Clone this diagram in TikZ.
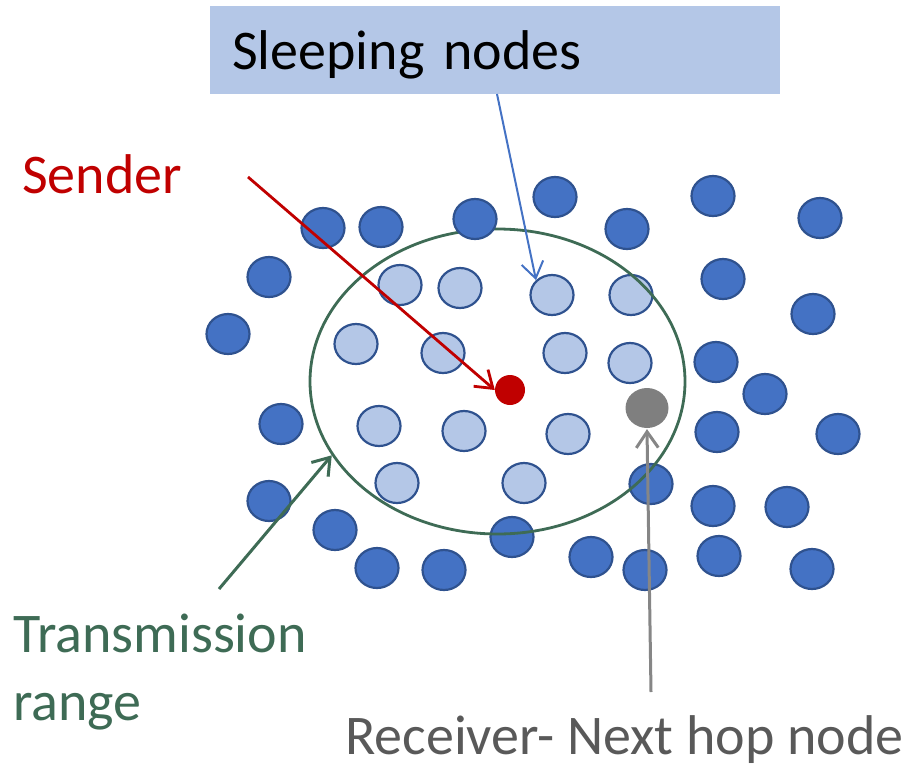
\documentclass[tikz,border=0pt]{standalone}
\usepackage{fontspec}
\setmainfont{Carlito}
\usepackage{tikz}
\usetikzlibrary{arrows.meta,shapes.geometric}

\definecolor{awakefill}{HTML}{4472C4}
\definecolor{nodeline}{HTML}{2F528F}
\definecolor{sleepfill}{HTML}{B4C7E7}
\definecolor{sendred}{HTML}{C00000}
\definecolor{rangegreen}{HTML}{3E6B55}
\definecolor{recvfill}{HTML}{7F7F7F}
\definecolor{recvtext}{HTML}{595959}
\definecolor{arrowgray}{HTML}{868686}

\begin{document}
\begin{tikzpicture}[x=1pt, y=-1pt,
  awake/.style={ellipse, draw=nodeline, line width=2.2pt, fill=awakefill,
    minimum width=43pt, minimum height=40pt, inner sep=0pt},
  asleep/.style={awake, fill=sleepfill},
  lbl/.style={font=\fontsize{56}{68}\selectfont, inner sep=0pt},
  barb/.style={-{Straight Barb[length=16pt,width=22pt]}}]
  \useasboundingbox (0,0) rectangle (918,766);

  % awake nodes (a3 comes after the range, it lies over it)
  \foreach \x/\y [count=\i] in {323/228, 381/227, 555/197, 627/229, 713/196,
      820/218, 269/277, 723/279, 813/314, 228/334, 716/362, 765/394, 281/424,
      717/432, 838/434, 651/484, 269/501, 713/506, 787/507, 335/530, 512/537,
      591/557, 377/568, 444/570, 645/570, 719/556, 812/569}
    \node (a\i) [awake] at (\x,\y) {};
  % sleeping nodes
  \foreach \x/\y [count=\i] in {400/285, 460/288, 552/295, 631/295, 356/344,
      443/353, 565/353, 630/363, 379/426, 464/431, 568/434, 397/483, 524/483}
    \node (l\i) [asleep] at (\x,\y) {};

  \node (range) [ellipse, draw=rangegreen, line width=2.8pt, minimum width=375pt,
    minimum height=305pt, inner sep=0pt] at (497.5,381.5) {};
  \node (atop) [awake] at (475,219) {};

  \node (sender) [circle, fill=sendred, minimum size=30pt, inner sep=0pt] at (510,390) {};
  \node (recv) [awake, draw=none, fill=recvfill] at (647,408) {};

  \node (sleepbox) [lbl, anchor=north west, fill=sleepfill, text width=526pt,
    inner xsep=22pt, minimum height=88pt, text height=44pt, text depth=6pt,
    align=left] at (210,6) {Sleeping nodes};
  \node (sendlbl) [lbl, text=sendred, anchor=base west] at (22,193) {Sender};
  \node (rangelbl) [lbl, text=rangegreen, anchor=base west] at (13,652) {Transmission};
  \node (rangelblb) [lbl, text=rangegreen, anchor=base west] at (13,720) {range};
  \node (recvlbl) [lbl, text=recvtext, anchor=base west] at (345,754) {Receiver- Next hop node};

  \coordinate (sendtail) at (248,177);
  \coordinate (sleeptail) at (497,94);
  \coordinate (rangetail) at (219,589);
  \coordinate (recvtail) at (651,692);
  \draw[barb, sendred, line width=2.8pt] (sendtail) -- (sender.west);
  \draw[barb, awakefill, line width=2pt] (sleeptail) -- (l3.north west);
  \draw[barb, rangegreen, line width=3pt] (rangetail) -- (range.204);
  \draw[barb, arrowgray, line width=3pt] (recvtail) -- (recv.south);
\end{tikzpicture}
\end{document}
